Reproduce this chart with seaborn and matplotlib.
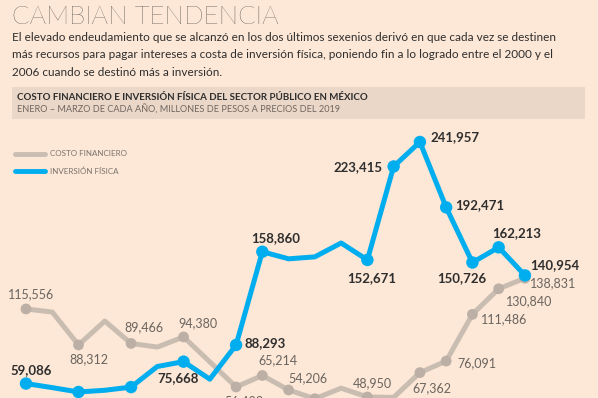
import pandas as pd
import matplotlib.pyplot as plt
import seaborn as sns

# Values (Q1 of each year, millions of 2019 pesos)
years = list(range(2000, 2020))
costo_financiero = [115556, 113200, 88312, 106400, 89466, 86700, 94380, 75500,
                    56493, 65214, 54206, 47600, 55600, 48950, 48600, 67362,
                    76091, 111486, 130840, 138831]
inversion_fisica = [59086, 56000, 52700, 54000, 56400, 72000, 75668, 62400,
                    88293, 158860, 153500, 155000, 165500, 152671, 223415,
                    241957, 192471, 150726, 162213, 140954]

# which years carry a dot in the reference
costo_dots = [2000, 2002, 2004, 2006, 2008, 2009, 2010, 2011, 2013, 2015,
              2016, 2017, 2018, 2019]
inversion_dots = [2000, 2002, 2004, 2006, 2008, 2009, 2013, 2014, 2015,
                  2016, 2017, 2018, 2019]

# labelled points: year -> text
costo_labels = {2000: '115,556', 2002: '88,312', 2004: '89,466', 2006: '94,380',
                2008: '56,493', 2009: '65,214', 2010: '54,206', 2013: '48,950',
                2015: '67,362', 2016: '76,091', 2017: '111,486',
                2018: '130,840', 2019: '138,831'}
inversion_labels = {2000: '59,086', 2006: '75,668', 2008: '88,293',
                    2009: '158,860', 2013: '152,671', 2014: '223,415',
                    2015: '241,957', 2016: '192,471', 2017: '150,726',
                    2018: '162,213', 2019: '140,954'}

# label placement (pixel offsets from the point, alignment)
costo_pos = {2000: (5, 15, 'center'), 2002: (10, -14, 'center'),
             2004: (13, 16, 'center'), 2006: (14, 14, 'center'),
             2008: (8, -14, 'center'), 2009: (16, 15, 'center'),
             2010: (19, 12, 'center'), 2013: (5, 14, 'center'),
             2015: (12, -16, 'center'), 2016: (11, -2, 'left'),
             2017: (9, -5, 'left'), 2018: (30, -12, 'center'),
             2019: (5, -5, 'left')}
inversion_pos = {2000: (5, 13, 'center'), 2006: (-5, -16, 'center'),
                 2008: (8, 2, 'left'), 2009: (13, 14, 'center'),
                 2013: (4, -18, 'center'), 2014: (-11, -1, 'right'),
                 2015: (11, 5, 'left'), 2016: (9, 2, 'left'),
                 2017: (-11, -16, 'center'), 2018: (18, 14, 'center'),
                 2019: (5, 10, 'left')}

BG = '#FDE7D6'
BOX = '#EBD7C8'
GRAY = '#C9BDB2'
GRAY_DOT = '#BCB0A6'
BLUE = '#00AEEF'
TXT = '#2E2E2E'

sns.set_theme(style='white')
plt.rcParams['font.family'] = ['Lato', 'DejaVu Sans']

W, H = 598, 398
fig = plt.figure(figsize=(W / 100, H / 100), dpi=100, facecolor=BG)


def fx(px):
    return px / W


def fy(py):
    return 1 - py / H


# header texts
fig.text(fx(12), fy(24), 'CAMBIAN TENDENCIA', fontsize=18.6, color='#151515',
         fontweight='light', va='baseline')
body = ['El elevado endeudamiento que se alcanzó en los dos últimos sexenios derivó en que cada vez se destinen',
        'más recursos para pagar intereses a costa de inversión física, poniendo fin a lo logrado entre el 2000 y el',
        '2006 cuando se destinó más a inversión.']
for i, line in enumerate(body):
    fig.text(fx(12), fy(41 + i * 17.5), line, fontsize=8.5, color=TXT, va='baseline')

fig.patches.append(plt.Rectangle((fx(12), fy(119)), fx(573), 32 / H,
                                 transform=fig.transFigure, facecolor=BOX,
                                 edgecolor='none', zorder=0))
fig.text(fx(17), fy(97), 'COSTO FINANCIERO E INVERSIÓN FÍSICA DEL SECTOR PÚBLICO EN MÉXICO',
         fontsize=7, fontweight='bold', color=TXT, va='center')
fig.text(fx(17), fy(110), 'ENERO – MARZO DE CADA AÑO, MILLONES DE PESOS A PRECIOS DEL 2019',
         fontsize=6.6, color='#6E6660', va='center')

# chart area
ax = fig.add_axes([0, 0, 1, (H - 120) / H])
ax.set_facecolor('none')

df = pd.DataFrame({'year': years, 'costo': costo_financiero,
                   'inversion': inversion_fisica})

sns.lineplot(data=df, x='year', y='costo', color=GRAY, linewidth=3.6, ax=ax,
             zorder=2)
sns.lineplot(data=df, x='year', y='inversion', color=BLUE, linewidth=3.6, ax=ax,
             zorder=4)
sns.scatterplot(data=df[df['year'].isin(costo_dots)], x='year', y='costo',
                color=GRAY_DOT, s=60, edgecolor='none', ax=ax, zorder=3)
sns.scatterplot(data=df[df['year'].isin(inversion_dots)], x='year', y='inversion',
                color=BLUE, s=80, edgecolor='none', ax=ax, zorder=5)

for yr, txt in costo_labels.items():
    dx, dy, ha = costo_pos[yr]
    ax.annotate(txt, (yr, costo_financiero[years.index(yr)]),
                xytext=(dx, dy), textcoords='offset pixels', ha=ha, va='center',
                fontsize=9, color='#6A6560', zorder=6)
for yr, txt in inversion_labels.items():
    dx, dy, ha = inversion_pos[yr]
    ax.annotate(txt, (yr, inversion_fisica[years.index(yr)]),
                xytext=(dx, dy), textcoords='offset pixels', ha=ha, va='center',
                fontsize=9.5, fontweight='bold', color=TXT, zorder=6)

px_per_year = 26.26
ax.set_xlim(2000 - 26 / px_per_year, 2000 + (W - 26) / px_per_year)
ax.set_ylim(48150, 258600)
ax.axis('off')

# legend drawn by hand like the original
fig.add_artist(plt.Line2D([fx(15), fx(45)], [fy(154), fy(154)], color=GRAY,
                          linewidth=3.5, solid_capstyle='round'))
fig.add_artist(plt.Line2D([fx(15), fx(45)], [fy(171), fy(171)], color=BLUE,
                          linewidth=3.5, solid_capstyle='round'))
fig.text(fx(50), fy(154), 'COSTO FINANCIERO', fontsize=5.8, color='#7A736D', va='center')
fig.text(fx(50), fy(171), 'INVERSIÓN FÍSICA', fontsize=5.8, color='#7A736D', va='center')

fig.savefig('out.png', dpi=100, facecolor=BG)
